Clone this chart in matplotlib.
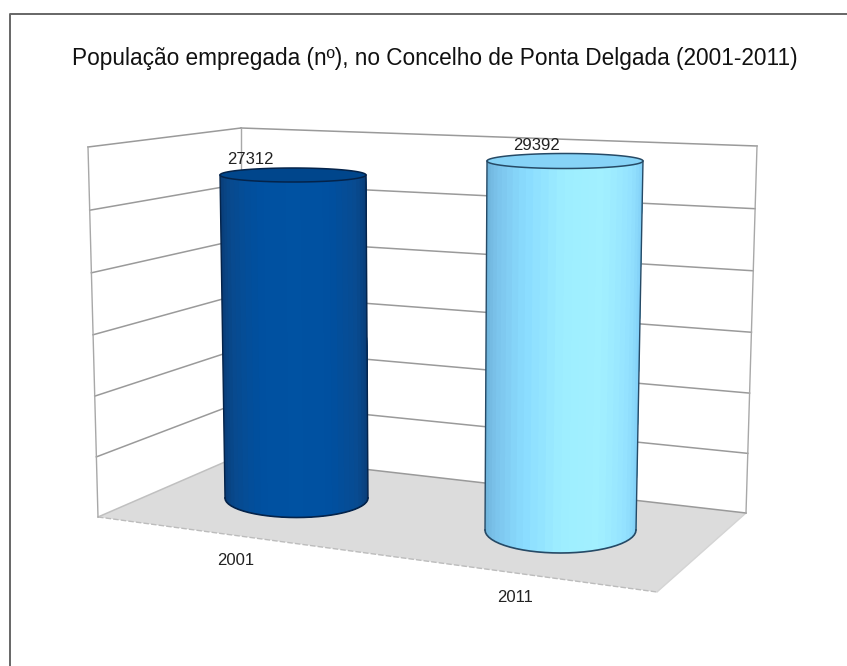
import numpy as np
import matplotlib
matplotlib.use("Agg")
import matplotlib.pyplot as plt
from matplotlib.colors import LinearSegmentedColormap
from matplotlib.patches import Polygon

# ---- data ----
title = "População empregada (nº), no Concelho de Ponta Delgada (2001-2011)"
years = ["2001", "2011"]
populacao = [27312, 29392]
axis_ticks = [0, 5000, 10000, 15000, 20000, 25000, 30000]

# ---- 3-D scene geometry (pixels) ----
W, H = 847, 666
AXIS_MAX = axis_ticks[-1]
front_left_floor = (98, 517)
front_left_top = (88, 147)
back_floor = (241, 455)
back_top = (241, 128)
right_floor = (746, 513)
right_top = (757, 146)
front_right_floor = (657, 592)

# per-cylinder perspective: base centre x, base y, base half-width/half-depth,
# top centre x, top half-width/half-depth, pixels per axis unit
cyl_geom = [
    dict(bx=296.5, by=498, ba=71.5, bb=19.5, tx=293, ta=73, tb=7, ppu=323 / 27312),
    dict(bx=560.5, by=530, ba=75.5, bb=23, tx=565, ta=78, tb=7.5, ppu=369 / 29392),
]
cyl_cmaps = [
    ["#0a3a72", "#084a8e", "#0050a0", "#0052a2", "#0050a0", "#084b90", "#0a3a72"],
    ["#6aaed4", "#7cc4ec", "#8adcff", "#9eeeff", "#a2f0ff", "#94e2ff", "#7ccbf5"],
]
top_colors = ["#00468c", "#86d3f7"]
edge_colors = ["#04234a", "#264a66"]
value_label_xy = [(250, 160), (536, 145.5)]
year_label_xy = [(235.5, 560.5), (515.5, 598)]

plt.rcParams["font.family"] = ["Liberation Sans", "DejaVu Sans"]
fig = plt.figure(figsize=(W / 100, H / 100), dpi=100)
ax = fig.add_axes([0, 0, 1, 1])
ax.set_xlim(0, W)
ax.set_ylim(H, 0)
ax.axis("off")


def lerp(a, b, f):
    return (a[0] + (b[0] - a[0]) * f, a[1] + (b[1] - a[1]) * f)


def warp(f):
    # slight perspective foreshortening of the value axis
    return f - 0.03 * f * (1 - f)


# outer frame: only the top and left edges are visible
ax.plot([9.5, 9.5, W], [H, 14, 14], color="#666666", lw=1.4, clip_on=False)

ax.text(434.5, 58.5, title, ha="center", va="center", fontsize=16.33, color="#111111")

# floor
floor = Polygon([front_left_floor, back_floor, right_floor, front_right_floor],
                closed=True, fc="#dcdcdc", ec="none", zorder=1)
ax.add_patch(floor)
ax.plot(*zip(front_left_floor, front_right_floor), color="#bcbcbc", lw=1, ls=(0, (4, 1.5)), zorder=1.5)
ax.plot(*zip(front_right_floor, right_floor), color="#d4d4d4", lw=1, zorder=1.5)

# walls and gridlines
GRID = "#9a9a9a"
for t in axis_ticks:
    f = warp(t / AXIS_MAX)
    a = lerp(front_left_floor, front_left_top, f)
    b = lerp(back_floor, back_top, f)
    c = lerp(right_floor, right_top, f)
    ax.plot([a[0], b[0]], [a[1], b[1]], color=GRID if t else "#c0c0c0", lw=1.1, zorder=2)
    ax.plot([b[0], c[0]], [b[1], c[1]], color=GRID, lw=1.1, zorder=2)
for p, q in [(front_left_floor, front_left_top), (back_floor, back_top), (right_floor, right_top)]:
    ax.plot(*zip(p, q), color="#a8a8a8", lw=1.0, zorder=2)

# cylinders
for i, v in enumerate(populacao):
    g = cyl_geom[i]
    cmap = LinearSegmentedColormap.from_list("c", cyl_cmaps[i])
    top_y = g["by"] - v * g["ppu"]
    th = np.linspace(np.pi, 0, 31)
    xb = g["bx"] + g["ba"] * np.cos(th)
    yb = g["by"] + g["bb"] * np.sin(th)
    xt = g["tx"] + g["ta"] * np.cos(th)
    yt = top_y + g["tb"] * np.sin(th)
    n = len(th) - 1
    for k in range(n):
        col = cmap(k / (n - 1))
        # each band reaches to the far side, the next one paints over it: no seams
        ax.add_patch(Polygon(list(zip(xt[k:], yt[k:])) + list(zip(xb[k:], yb[k:]))[::-1],
                             closed=True, fc=col, ec="none", zorder=3 + k * 0.001))
    ec = edge_colors[i]
    ax.plot(xb, yb, color=ec, lw=1.2, zorder=4)
    ax.plot([xt[0], xb[0]], [yt[0], yb[0]], color=ec, lw=1.0, zorder=4)
    ax.plot([xt[-1], xb[-1]], [yt[-1], yb[-1]], color=ec, lw=1.0, zorder=4)
    phi = np.linspace(0, 2 * np.pi, 90)
    ex = g["tx"] + g["ta"] * np.cos(phi)
    ey = top_y + g["tb"] * np.sin(phi)
    ax.fill(ex, ey, fc=top_colors[i], ec=ec, lw=1.1, zorder=5)
    ax.text(*value_label_xy[i], str(v), ha="center", va="center", fontsize=12, color="#222222", zorder=6)
    ax.text(*year_label_xy[i], years[i], ha="center", va="center", fontsize=12, color="#222222", zorder=6)

fig.savefig("out.png", dpi=100)
